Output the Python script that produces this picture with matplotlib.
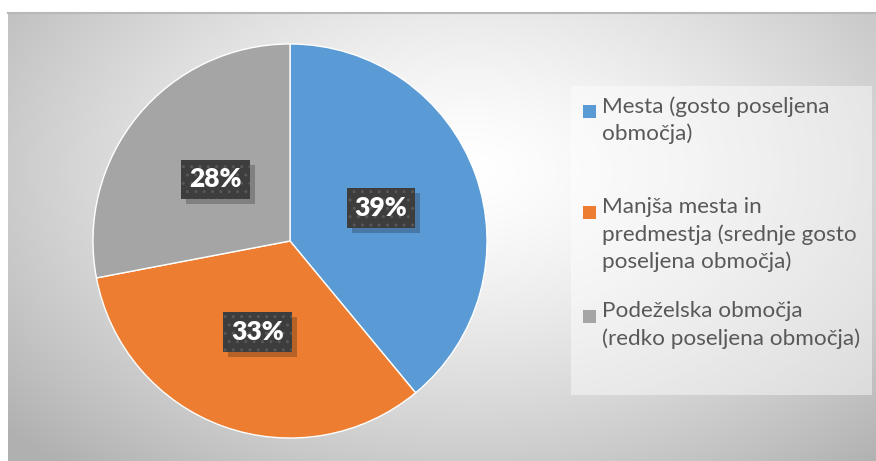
import numpy as np
import matplotlib
matplotlib.use("Agg")
import matplotlib.pyplot as plt
from matplotlib.patches import Rectangle

categories = ["Mesta (gosto poseljena\nobmočja)",
              "Manjša mesta in\npredmestja (srednje gosto\nposeljena območja)",
              "Podeželska območja\n(redko poseljena območja)"]
values = [39, 33, 28]
labels = ["39%", "33%", "28%"]
colors = ["#5B9BD5", "#ED7D31", "#A5A5A5"]

W, H = 876, 461
fig = plt.figure(figsize=(W / 100, H / 100), dpi=100)
fig.patch.set_facecolor("white")

# background panel with radial gradient
x0, y0 = 8, 13
bg = fig.add_axes([x0 / W, 0, (W - x0) / W, (H - y0) / H])
bg.set_axis_off()
nx, ny = 300, 160
xs = np.linspace(x0, W, nx)
ys = np.linspace(y0, H, ny)
X, Y = np.meshgrid(xs, ys)
cx, cy, rx, ry = 470, 170, 520, 330
r = np.sqrt(((X - cx) / rx) ** 2 + ((Y - cy) / ry) ** 2)
val = 1 - 0.24 * np.clip(r, 0, 1.2) ** 1.4
img = np.dstack([val, val, val])
bg.imshow(img, aspect="auto", extent=[0, 1, 0, 1], origin="upper")
bg.set_xlim(0, 1); bg.set_ylim(0, 1)
bg.plot([0, 1], [1, 1], color="#b8b8b8", lw=1.5, transform=bg.transAxes, clip_on=False)

# pie
pcx, pcy, pr = 290, 241, 199
ax = fig.add_axes([(pcx - pr) / W, (H - pcy - pr) / H, 2 * pr / W, 2 * pr / H])
ax.set_axis_off()
wedges, texts = ax.pie(values, colors=colors, startangle=90, counterclock=False,
                       labels=labels, labeldistance=0.49,
                       wedgeprops=dict(edgecolor="white", linewidth=1))
ax.set_xlim(-1.01, 1.01); ax.set_ylim(-1.01, 1.01)
ax.set_aspect("equal")
for t in texts:
    t.set_fontfamily("Lato")
    t.set_fontweight("heavy")
    t.set_fontsize(19)
    t.set_color("white")
    t.set_ha("center"); t.set_va("center")
    t.set_zorder(5)
    t.set_bbox(dict(boxstyle="square,pad=0.3", facecolor="#3d3d3d",
                    edgecolor="#585858", linewidth=0, hatch=".."))

# drop shadows for label boxes
fig.canvas.draw()
for t in texts:
    bb = t.get_bbox_patch().get_window_extent()
    ax.add_artist(Rectangle(((bb.x0 + 5) / W, (bb.y0 - 5) / H),
                            bb.width / W, bb.height / H,
                            transform=fig.transFigure, facecolor="black",
                            alpha=0.22, edgecolor="none", zorder=4))

# legend (manual, Excel style)
lx0, ly0, lx1, ly1 = 571, 86, 872, 395
leg = Rectangle((lx0 / W, 1 - ly1 / H), (lx1 - lx0) / W, (ly1 - ly0) / H,
                transform=fig.transFigure, facecolor="white", alpha=0.45,
                edgecolor="none")
fig.patches.append(leg)
first_line_y = [111, 212, 316]
for name, col, yl in zip(categories, colors, first_line_y):
    fig.patches.append(Rectangle((583 / W, 1 - (yl + 7) / H), 13 / W, 13 / H,
                                 transform=fig.transFigure, facecolor=col,
                                 edgecolor="none"))
    fig.text(602 / W, 1 - (yl - 15) / H, name, ha="left", va="top",
             fontfamily="Lato", fontsize=16.2, color="#595959",
             linespacing=1.42)

fig.savefig("out.png", dpi=100)
